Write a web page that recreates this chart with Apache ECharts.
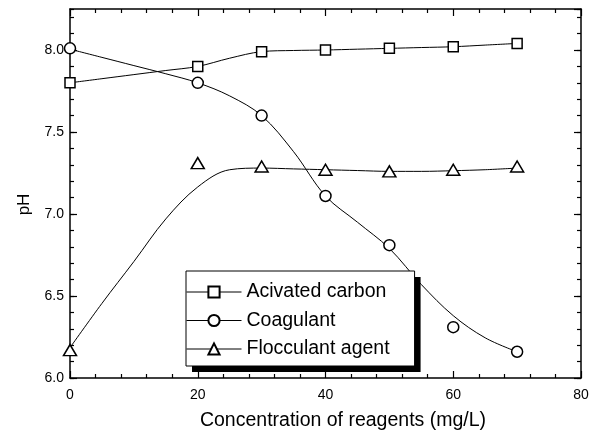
<!DOCTYPE html>
<html>
<head>
<meta charset="utf-8">
<script src="https://cdn.jsdelivr.net/npm/echarts@6/dist/echarts.min.js"></script>
<style>
  html, body { margin: 0; padding: 0; background: #fff; }
  #chart { width: 597px; height: 436px; }
</style>
</head>
<body>
<div id="chart"></div>
<script>
// measured points
var xValues = [0, 20, 30, 40, 50, 60, 70];
var carbon = [7.80, 7.90, 7.99, 8.00, 8.01, 8.02, 8.04];
var coagulant = [8.01, 7.80, 7.60, 7.11, 6.81, 6.31, 6.16];
var flocculant = [6.17, 7.31, 7.29, 7.27, 7.26, 7.27, 7.29];

// fitted curves, every 5 mg/L
var curveX = [0, 5, 10, 15, 20, 25, 30, 35, 40, 45, 50, 55, 60, 65, 70];
var carbonCurve = [7.80, 7.825, 7.85, 7.875, 7.90, 7.95, 7.99, 7.997, 8.00, 8.005, 8.01, 8.015, 8.02, 8.03, 8.04];
var coagCurve = [8.005, 7.955, 7.905, 7.855, 7.80, 7.72, 7.60, 7.38, 7.11, 6.95, 6.79, 6.57, 6.38, 6.245, 6.16];
var flocCurve = [6.185, 6.455, 6.71, 6.97, 7.165, 7.27, 7.28, 7.275, 7.27, 7.265, 7.26, 7.26, 7.264, 7.27, 7.28];

var xTicks = [0, 20, 40, 60, 80];
var yTicks = ["6.0", "6.5", "7.0", "7.5", "8.0"];

var names = ["Acivated carbon", "Coagulant", "Flocculant agent"];
var font = "Liberation Sans, Arial, sans-serif";

function pairs(xs, ys) {
  return xs.map(function (x, i) { return [x, ys[i]]; });
}

function curve(ys) {
  return {
    type: "line",
    name: "fit",
    data: pairs(curveX, ys),
    smooth: 0.35,
    symbol: "none",
    silent: true,
    z: 2,
    lineStyle: { color: "#000", width: 1 }
  };
}

function points(name, ys, symbol, size) {
  return {
    type: "line",
    name: name,
    data: pairs(xValues, ys),
    symbol: symbol,
    symbolSize: size,
    showSymbol: true,
    z: 5,
    lineStyle: { opacity: 0, width: 0 },
    itemStyle: { color: "#fff", borderColor: "#000", borderWidth: 1.5 }
  };
}

// legend drawn twice: once for the white box with its hard shadow and the items,
// once on top for the thin border only (so the border casts no inner shadow)
function legend(withShadow) {
  var l = {
    data: names,
    orient: "vertical",
    left: 186,
    top: 271,
    padding: [11, 25, 7, 0],
    itemWidth: 55,
    itemHeight: 14,
    itemGap: 8.5,
    lineStyle: { color: "#000", width: 1, opacity: 1 },
    textStyle: { color: "#000", fontFamily: font, fontSize: 19.5 }
  };
  if (withShadow) {
    l.backgroundColor = "#fff";
    l.borderWidth = 0;
    l.shadowColor = "#000";
    l.shadowBlur = 0;
    l.shadowOffsetX = 6;
    l.shadowOffsetY = 6;
  } else {
    l.backgroundColor = "transparent";
    l.borderColor = "#000";
    l.borderWidth = 1;
    l.itemStyle = { opacity: 0 };
    l.lineStyle = { color: "#000", width: 1, opacity: 0 };
    l.textStyle = { color: "rgba(0,0,0,0)", fontFamily: font, fontSize: 19.5 };
  }
  return l;
}

var xBase = {
  type: "value",
  min: xTicks[0],
  max: xTicks[xTicks.length - 1],
  interval: 20,
  splitLine: { show: false },
  axisLine: { show: true, onZero: false, lineStyle: { color: "#000", width: 1.5 } },
  axisTick: { show: true, inside: true, length: 7, lineStyle: { color: "#000", width: 1.2 } },
  minorTick: { show: true, splitNumber: 5, length: 4, lineStyle: { color: "#000", width: 1.2 } }
};

function yMajor(pos, labels) {
  return {
    type: "value",
    position: pos,
    min: 6,
    max: 8.25,
    interval: 0.5,
    splitLine: { show: false },
    axisLine: { show: true, onZero: false, lineStyle: { color: "#000", width: 1.5 } },
    axisTick: { show: true, inside: true, length: 7, lineStyle: { color: "#000", width: 1.2 } },
    axisLabel: {
      show: labels,
      showMaxLabel: false,
      color: "#000",
      fontFamily: font,
      fontSize: 14,
      margin: 6,
      formatter: function (v) {
        var s = v.toFixed(1);
        return yTicks.indexOf(s) >= 0 ? s : "";
      }
    }
  };
}

function yMinor(pos) {
  return {
    type: "value",
    position: pos,
    min: 6,
    max: 8.25,
    interval: 0.1,
    splitLine: { show: false },
    axisLine: { show: false, onZero: false },
    axisTick: { show: true, inside: true, length: 4, lineStyle: { color: "#000", width: 1.2 } },
    axisLabel: { show: false }
  };
}

var chart = echarts.init(document.getElementById("chart"));
chart.setOption({
  animation: false,
  backgroundColor: "#fff",
  grid: { left: 70, right: 16, top: 9, bottom: 56, containLabel: false },
  legend: [legend(true), legend(false)],
  xAxis: [
    Object.assign({}, xBase, {
      position: "bottom",
      name: "Concentration of reagents (mg/L)",
      nameLocation: "middle",
      nameGap: 33,
      nameTextStyle: { color: "#000", fontFamily: font, fontSize: 19.5, padding: [0, 0, 0, 35] },
      axisLabel: { color: "#000", fontFamily: font, fontSize: 14, margin: 10 }
    }),
    Object.assign({}, xBase, { position: "top", axisLabel: { show: false } })
  ],
  yAxis: [
    Object.assign(yMajor("left", true), {
      name: "pH",
      nameLocation: "middle",
      nameGap: 37,
      nameTextStyle: { color: "#000", fontFamily: font, fontSize: 17, padding: [0, 22, 0, 0] }
    }),
    yMinor("left"),
    yMajor("right", false),
    yMinor("right")
  ],
  series: [
    curve(carbonCurve),
    curve(coagCurve),
    curve(flocCurve),
    points(names[0], carbon, "rect", 10),
    points(names[1], coagulant, "circle", 11),
    points(names[2], flocculant, "triangle", [13, 11])
  ]
});
</script>
</body>
</html>
